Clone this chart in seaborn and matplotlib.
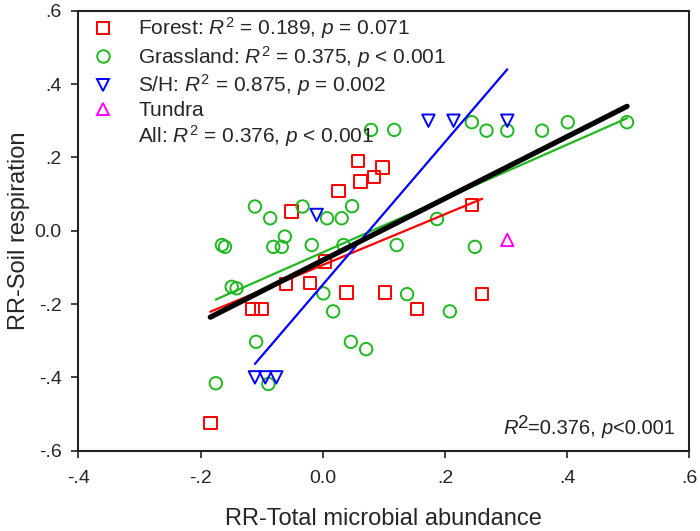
import pandas as pd
import matplotlib
matplotlib.use("Agg")
import matplotlib.pyplot as plt
from matplotlib.lines import Line2D
from matplotlib.ticker import FuncFormatter, MultipleLocator
import seaborn as sns

# values
forest_x = [-0.051, 0.058, 0.098, 0.084, 0.062, 0.026, 0.244, 0.004, -0.060,
            -0.021, -0.115, -0.100, 0.039, 0.102, 0.261, 0.154, -0.184]
forest_y = [0.052, 0.190, 0.172, 0.147, 0.134, 0.109, 0.070, -0.084, -0.146,
            -0.142, -0.214, -0.214, -0.168, -0.168, -0.173, -0.214, -0.525]

grass_x = [-0.111, -0.033, -0.086, 0.007, -0.062, -0.165, -0.160, -0.081, -0.067,
           -0.018, 0.079, 0.117, 0.244, 0.268, 0.302, 0.359, 0.401, 0.498,
           0.048, 0.031, 0.187, 0.034, 0.121, 0.249, -0.149, -0.141, 0.001,
           0.017, -0.109, -0.175, -0.089, 0.138, 0.208, 0.046, 0.071]
grass_y = [0.066, 0.066, 0.034, 0.034, -0.016, -0.039, -0.044, -0.044, -0.044,
           -0.039, 0.275, 0.275, 0.296, 0.273, 0.273, 0.273, 0.296, 0.296,
           0.067, 0.034, 0.032, -0.039, -0.039, -0.044, -0.153, -0.157, -0.171,
           -0.220, -0.303, -0.416, -0.418, -0.173, -0.220, -0.303, -0.323]

sh_x = [-0.010, 0.173, 0.214, 0.302, -0.111, -0.094, -0.076]
sh_y = [0.043, 0.300, 0.300, 0.300, -0.400, -0.400, -0.400]

tundra_x = [0.302]
tundra_y = [-0.025]

labels = [r"Forest: $R^2$ = 0.189, $p$ = 0.071",
          r"Grassland: $R^2$ = 0.375, $p$ < 0.001",
          r"S/H: $R^2$ = 0.875, $p$ = 0.002",
          "Tundra",
          r"All: $R^2$ = 0.376, $p$ < 0.001"]

groups = {
    "Forest": (forest_x, forest_y, "s", "#ff0000"),
    "Grassland": (grass_x, grass_y, "o", "#1fb81f"),
    "S/H": (sh_x, sh_y, "v", "#0000ff"),
    "Tundra": (tundra_x, tundra_y, "^", "#ff00ff"),
}

sns.set_style("ticks")
plt.rcParams["font.family"] = ["Liberation Sans", "DejaVu Sans"]
plt.rcParams["mathtext.fontset"] = "custom"
plt.rcParams["mathtext.rm"] = "Liberation Sans"
plt.rcParams["mathtext.it"] = "Liberation Sans:italic"

fig = plt.figure(figsize=(7, 5.31), dpi=100)
ax = fig.add_axes([0.1119, 0.1512, 0.8729, 0.8286])

rows = []
for name, (xs, ys, m, c) in groups.items():
    sns.regplot(x=xs, y=ys, fit_reg=False, marker=m, ax=ax,
                scatter_kws=dict(facecolors="none", edgecolors=c, s=80,
                                 linewidths=1.4, alpha=1, zorder=2))
    rows += [(x, y, name) for x, y in zip(xs, ys)]
data = pd.DataFrame(rows, columns=["x", "y", "biome"])

# regression lines per biome (tundra has a single point) and for all data
for name in ["Forest", "Grassland", "S/H"]:
    xs, ys, m, c = groups[name]
    sns.regplot(x=xs, y=ys, scatter=False, ci=None, ax=ax,
                line_kws=dict(color=c, lw=1.6, zorder=3))
sns.regplot(data=data, x="x", y="y", scatter=False, ci=None, ax=ax,
            line_kws=dict(color="black", lw=3.8, zorder=4))

ax.set_xlim(-0.4, 0.6)
ax.set_ylim(-0.6, 0.6)
ax.xaxis.set_major_locator(MultipleLocator(0.2))
ax.yaxis.set_major_locator(MultipleLocator(0.2))
fmt = FuncFormatter(lambda v, p: "0.0" if abs(v) < 1e-9 else f"{v:.1f}".replace("0.", ".", 1))
ax.xaxis.set_major_formatter(fmt)
ax.yaxis.set_major_formatter(fmt)
ax.tick_params(direction="out", length=5, width=1.2, labelsize=14, color="#222222")
ax.tick_params(axis="x", pad=9)
ax.tick_params(axis="y", pad=7)
for s in ax.spines.values():
    s.set_linewidth(1.5)
    s.set_color("#222222")

ax.set_xlabel("RR-Total microbial abundance", fontsize=17, labelpad=15)
ax.set_ylabel("RR-Soil respiration", fontsize=17, labelpad=3)

handles = [Line2D([], [], ls="none", marker=groups[n][2], markersize=9,
                  markerfacecolor="none", markeredgecolor=groups[n][3], markeredgewidth=1.4)
           for n in groups]
handles.append(Line2D([], [], ls="none"))
ax.legend(handles, labels, loc="upper left", bbox_to_anchor=(0.0103, 1.009), frameon=False,
          fontsize=15, handlelength=1.0, handletextpad=1.18, labelspacing=0.13,
          borderaxespad=0)

# bottom-right note: italic R with a full-size raised 2
t1 = ax.text(0.976, 0.03, "<0.001", transform=ax.transAxes, ha="right", va="bottom",
             fontsize=14.5, color="#222222")
t2 = ax.annotate("p", xy=(0, 0), xycoords=t1, ha="right", va="bottom",
                 fontsize=14.5, style="italic", color="#222222")
t3 = ax.annotate("=0.376, ", xy=(0, 0), xycoords=t2, ha="right", va="bottom",
                 fontsize=14.5, color="#222222")
t4 = ax.annotate("2", xy=(0, 0.3), xycoords=t3, ha="right", va="bottom",
                 fontsize=13.5, color="#222222")
ax.annotate("R", xy=(0, 0), xycoords=(t4, t3), ha="right", va="bottom",
            fontsize=14.5, style="italic", color="#222222")

fig.savefig("out.png", dpi=100)
